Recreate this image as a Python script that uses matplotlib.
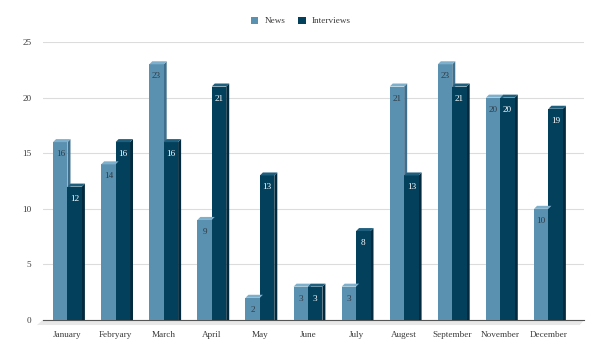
import matplotlib
matplotlib.use("Agg")
import matplotlib.pyplot as plt
from matplotlib.patches import Polygon, Patch
import numpy as np

months = ["January", "Febryary", "March", "April", "May", "June", "July",
          "Augest", "September", "November", "December"]
news = [16, 14, 23, 9, 2, 3, 3, 21, 23, 20, 10]
interviews = [12, 16, 16, 21, 13, 3, 8, 13, 21, 20, 19]
yticks = [0, 5, 10, 15, 20, 25]

plt.rcParams['font.family'] = ['Liberation Serif', 'DejaVu Serif']

fig = plt.figure(figsize=(6.02, 3.58), dpi=100)
ax = fig.add_axes([0.0709, 0.1061, 0.8993, 0.7765])

x = np.arange(len(months))
w = 0.30
dx = 0.062          # depth offset (x data units)
dy = 0.27           # depth offset (y data units)

series = [
    (news, -w / 2, "#5b91b0", "#3f6f8c", "#7fb0cb", "#2f3b44", "News"),
    (interviews, w / 2, "#03405c", "#012a3e", "#1f5f7e", "white", "Interviews"),
]

for vals, off, front, side, top, tcol, name in series:
    bars = ax.bar(x + off, vals, width=w, color=front, zorder=3, linewidth=0)
    for b, v in zip(bars, vals):
        x0 = b.get_x()
        x1 = x0 + b.get_width()
        # side face
        ax.add_patch(Polygon([(x1, 0), (x1 + dx, 0), (x1 + dx, v + dy), (x1, v)],
                             closed=True, facecolor=side, edgecolor='none', zorder=2.9))
        # top face
        ax.add_patch(Polygon([(x0, v), (x1, v), (x1 + dx, v + dy), (x0 + dx, v + dy)],
                             closed=True, facecolor=top, edgecolor='none', zorder=3.1))
        ax.annotate(str(v), xy=(x0 + b.get_width() / 2, v), xytext=(0, -12),
                    textcoords='offset pixels', ha='center', va='center',
                    fontsize=6.6, color=tcol, zorder=4)

# floor
floor = Polygon([(-0.516, 0), (10.74, 0), (10.74 - 0.09, -0.45), (-0.516 - 0.12, -0.45)],
                closed=True, facecolor="#e8e8e8", edgecolor='none', zorder=1, clip_on=False)
ax.add_patch(floor)

ax.set_xlim(-0.516, 10.74)
ax.set_ylim(0, 25)
ax.set_xticks(x)
ax.set_xticklabels(months)
ax.set_yticks(yticks)
ax.tick_params(axis='both', length=0, labelsize=6.6, colors="#3a3a3a")
ax.tick_params(axis='x', pad=8)
ax.tick_params(axis='y', pad=8)
ax.grid(axis='y', color="#dcdcdc", linewidth=0.8, zorder=0)
ax.set_axisbelow(True)
for s in ['top', 'right', 'left']:
    ax.spines[s].set_visible(False)
ax.spines['bottom'].set_color("#555555")
ax.spines['bottom'].set_linewidth(0.8)
ax.spines['bottom'].set_zorder(2)

handles = [Patch(facecolor="#5b91b0", label="News"),
           Patch(facecolor="#03405c", label="Interviews")]
fig.legend(handles=handles, loc='center', bbox_to_anchor=(0.5, 0.941), ncol=2,
           frameon=False, fontsize=6.6, handlelength=0.8, handleheight=0.8,
           handletextpad=0.7, columnspacing=1.4, labelcolor="#3a3a3a")

fig.savefig("out.png", dpi=100)
